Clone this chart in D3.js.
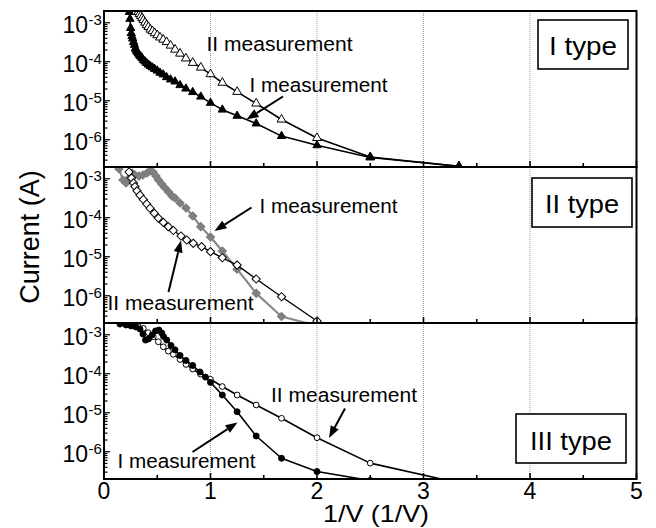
<!DOCTYPE html>
<html>
<head>
<meta charset="utf-8">
<script src="https://cdn.jsdelivr.net/npm/d3@7"></script>
<style>
  body { margin: 0; background: #fff; }
  svg { display: block; }
</style>
</head>
<body>
<svg id="chart" width="656" height="528"></svg>
<script>
// ---- data: inverse voltage (1/V) and current (A) per device type and measurement ----
const xTypeI_I = [0.238,0.244,0.25,0.256,0.263,0.27,0.278,0.286,0.294,0.303,0.313,0.323,0.333,0.345,0.357,0.37,0.385,0.4,0.417,0.435,0.455,0.476,0.5,0.526,0.556,0.588,0.625,0.667,0.714,0.769,0.833,0.909,1,1.111,1.25,1.429,1.667,2,2.5,3.333];
const iTypeI_I = [1.88e-3,1.25e-3,7.3e-4,5.4e-4,4.5e-4,3.9e-4,3.2e-4,2.7e-4,2.17e-4,1.93e-4,1.77e-4,1.62e-4,1.48e-4,1.35e-4,1.24e-4,1.10e-4,1.01e-4,9.2e-5,8.4e-5,7.7e-5,7.1e-5,6.5e-5,5.9e-5,5.2e-5,4.7e-5,4.0e-5,3.5e-5,3.1e-5,2.5e-5,2.04e-5,1.66e-5,1.27e-5,8.8e-6,5.9e-6,4.1e-6,2.6e-6,1.24e-6,7.2e-7,3.5e-7,2.1e-7];

const xTypeI_II = [0.323,0.333,0.345,0.357,0.37,0.385,0.4,0.417,0.435,0.455,0.476,0.5,0.526,0.556,0.588,0.625,0.667,0.714,0.769,0.833,0.909,1,1.111,1.25,1.429,1.667,2,2.5,3.333];
const iTypeI_II = [1.88e-3,1.67e-3,1.49e-3,1.32e-3,1.17e-3,1.01e-3,8.7e-4,7.8e-4,6.7e-4,6.1e-4,5.4e-4,4.8e-4,4.2e-4,3.7e-4,3.2e-4,2.6e-4,2.05e-4,1.62e-4,1.22e-4,9.4e-5,7.1e-5,4.8e-5,2.9e-5,1.69e-5,8.5e-6,3.3e-6,1.11e-6,3.6e-7,2.07e-7];

const xTypeII_I = [0.141,0.178,0.207,0.235,0.263,0.291,0.329,0.366,0.404,0.432,0.46,0.488,0.512,0.542,0.573,0.606,0.638,0.667,0.714,0.77,0.833,0.909,1,1.111,1.25,1.429,1.667,2];
const iTypeII_I = [1.78e-3,9.3e-4,7.8e-4,1.04e-3,1.40e-3,1.25e-3,1.17e-3,1.25e-3,1.40e-3,1.58e-3,1.49e-3,1.17e-3,9.3e-4,7.3e-4,5.8e-4,4.6e-4,3.6e-4,3.2e-4,2.39e-4,1.78e-4,1.11e-4,5.9e-5,3.2e-5,1.40e-5,4.8e-6,1.15e-6,2.94e-7,1.7e-7];

const xTypeII_II = [0.235,0.258,0.277,0.291,0.31,0.338,0.369,0.401,0.432,0.472,0.51,0.557,0.604,0.651,0.723,0.777,0.838,0.917,1,1.111,1.25,1.429,1.667,2];
const iTypeII_II = [1.49e-3,1.04e-3,7.8e-4,6.3e-4,4.9e-4,3.8e-4,2.94e-4,2.25e-4,1.75e-4,1.30e-4,9.8e-5,7.6e-5,5.9e-5,4.7e-5,3.4e-5,2.69e-5,2.21e-5,1.81e-5,1.35e-5,9.4e-6,6.1e-6,2.69e-6,9.4e-7,2.25e-7];

const xTypeIII_I = [0.15,0.207,0.254,0.3,0.338,0.366,0.39,0.418,0.451,0.484,0.516,0.542,0.559,0.589,0.629,0.667,0.714,0.77,0.833,0.901,0.953,1,1.111,1.25,1.429,1.667,2,2.5];
const iTypeIII_I = [1.88e-3,1.78e-3,1.68e-3,1.58e-3,1.40e-3,1.04e-3,7.3e-4,7.8e-4,9.8e-4,1.25e-3,1.32e-3,1.11e-3,9.0e-4,7.3e-4,5.3e-4,4.1e-4,2.94e-4,2.19e-4,1.63e-4,1.11e-4,8.2e-5,6.0e-5,2.85e-5,1.06e-5,2.53e-6,6.8e-7,3.1e-7,1.83e-7];

const xTypeIII_II = [0.207,0.254,0.291,0.322,0.369,0.416,0.463,0.51,0.557,0.604,0.651,0.714,0.77,0.833,0.906,1,1.111,1.25,1.429,1.667,2,2.5,3.333];
const iTypeIII_II = [1.88e-3,1.78e-3,1.68e-3,1.61e-3,1.46e-3,1.13e-3,8.9e-4,6.6e-4,4.9e-4,3.8e-4,3.15e-4,2.32e-4,1.73e-4,1.32e-4,9.8e-5,7.2e-5,4.7e-5,2.85e-5,1.58e-5,7.2e-6,2.29e-6,5.1e-7,1.58e-7];

const xTickLabels = ["0", "1", "2", "3", "4", "5"];
const yDecades = [-3, -4, -5, -6];
const panelNames = ["I type", "II type", "III type"];
const measureNames = ["I measurement", "II measurement"];

// ---- layout ----
const FONT = "'Liberation Sans', Arial, Helvetica, sans-serif";
const svg = d3.select("#chart");
const plotLeft = 104, plotRight = 636.5, panelH = 156;
const panelTops = [11, 167, 323];

const x = d3.scaleLinear().domain([0, 5]).range([plotLeft, plotRight]);
const yScales = panelTops.map(t => d3.scaleLog().domain([2e-7, 2e-3]).range([t + panelH, t]));

const series = [
  { p: 0, xs: xTypeI_II, ys: iTypeI_II, sym: "tri", fill: "#fff", stroke: "#000", line: "#000", lw: 1.6, size: 34 },
  { p: 0, xs: xTypeI_I,  ys: iTypeI_I,  sym: "tri", fill: "#000", stroke: "#000", line: "#000", lw: 1.6, size: 30 },
  { p: 1, xs: xTypeII_I, ys: iTypeII_I, sym: "dia", fill: "#808080", stroke: "#7a7a7a", line: "#8a8a8a", lw: 2.2, size: 34 },
  { p: 1, xs: xTypeII_II, ys: iTypeII_II, sym: "dia", fill: "#fff", stroke: "#000", line: "#000", lw: 1.4, size: 34 },
  { p: 2, xs: xTypeIII_II, ys: iTypeIII_II, sym: "circ", fill: "#fff", stroke: "#000", line: "#000", lw: 1.6, size: 26 },
  { p: 2, xs: xTypeIII_I,  ys: iTypeIII_I,  sym: "circ", fill: "#000", stroke: "#000", line: "#000", lw: 1.6, size: 28 }
];

const defs = svg.append("defs");
panelTops.forEach((t, i) => {
  defs.append("clipPath").attr("id", "clip" + i)
    .append("rect").attr("x", plotLeft).attr("y", t)
    .attr("width", plotRight - plotLeft).attr("height", panelH);
});

// grid lines
panelTops.forEach((t, i) => {
  svg.append("g").selectAll("line").data([1, 2, 3, 4]).join("line")
    .attr("x1", d => x(d)).attr("x2", d => x(d))
    .attr("y1", t).attr("y2", t + panelH)
    .attr("stroke", "#9a9a9a").attr("stroke-width", 1)
    .attr("stroke-dasharray", "1,1");
});

// series
const symType = { tri: d3.symbolTriangle, dia: d3.symbolSquare, circ: d3.symbolCircle };
series.forEach(s => {
  const y = yScales[s.p];
  const pts = d3.zip(s.xs, s.ys);
  const g = svg.append("g").attr("clip-path", `url(#clip${s.p})`);
  g.append("path").datum(pts)
    .attr("d", d3.line().x(d => x(d[0])).y(d => y(d[1])))
    .attr("fill", "none").attr("stroke", s.line).attr("stroke-width", s.lw)
    .attr("stroke-linejoin", "round");
  g.selectAll("path.m").data(pts).join("path").attr("class", "m")
    .attr("d", d3.symbol(symType[s.sym], s.size))
    .attr("transform", d => `translate(${x(d[0])},${y(d[1])})` + (s.sym === "dia" ? " rotate(45)" : ""))
    .attr("fill", s.fill).attr("stroke", s.stroke).attr("stroke-width", 1);
});

// axes ticks and frames
panelTops.forEach((t, i) => {
  const y = yScales[i];
  const bottom = t + panelH;
  // inward x ticks on each panel's bottom edge
  svg.append("g").selectAll("line").data(d3.range(0, 5.01, 0.5)).join("line")
    .attr("x1", d => x(d)).attr("x2", d => x(d))
    .attr("y1", bottom).attr("y2", d => bottom - (Number.isInteger(d) ? 6 : 4))
    .attr("stroke", "#000").attr("stroke-width", 1.6);
  // log ticks on left edge
  const lt = y.ticks();
  svg.append("g").selectAll("line").data(lt).join("line")
    .attr("x1", plotLeft).attr("x2", d => {
      const m = Math.round(d / Math.pow(10, Math.floor(Math.log10(d) + 1e-9)));
      return plotLeft + (m === 1 ? 6 : 3.5);
    })
    .attr("y1", d => y(d)).attr("y2", d => y(d))
    .attr("stroke", "#000").attr("stroke-width", 1.2);
  // y tick labels 10^n
  const lab = svg.append("g").attr("font-family", FONT).attr("fill", "#000");
  yDecades.forEach(n => {
    const ty = y(Math.pow(10, n));
    lab.append("text").attr("x", 88).attr("y", ty + 10.5)
      .attr("text-anchor", "end").attr("font-size", 23).text("10");
    lab.append("text").attr("x", 88.5).attr("y", ty + 2.5)
      .attr("font-size", 15).text("-" + Math.abs(n));
  });
  // frame
  svg.append("rect").attr("x", plotLeft).attr("y", t)
    .attr("width", plotRight - plotLeft).attr("height", panelH)
    .attr("fill", "none").attr("stroke", "#000").attr("stroke-width", 2);
});

// x tick labels
svg.append("g").attr("font-family", FONT).selectAll("text").data(xTickLabels).join("text")
  .attr("x", (d, i) => x(i)).attr("y", 498.5)
  .attr("text-anchor", "middle").attr("font-size", 23).text(d => d);

// axis titles
svg.append("text").attr("font-family", FONT).attr("font-size", 24)
  .attr("text-anchor", "middle").attr("x", 376).attr("y", 521.5)
  .attr("textLength", 106).attr("lengthAdjust", "spacingAndGlyphs").text("1/V (1/V)");
svg.append("text").attr("font-family", FONT).attr("font-size", 27)
  .attr("text-anchor", "middle")
  .attr("transform", "translate(38.5,237) rotate(-90)").text("Current (A)");

// type boxes
const boxes = [
  { x: 538, y: 20, w: 90, h: 49, tl: 68, base: 55 },
  { x: 532, y: 178, w: 100, h: 49, tl: 74, base: 213 },
  { x: 516, y: 414, w: 110, h: 49, tl: 82, base: 449.5 }
];
boxes.forEach((b, i) => {
  svg.append("rect").attr("x", b.x).attr("y", b.y).attr("width", b.w).attr("height", b.h)
    .attr("fill", "#fff").attr("stroke", "#000").attr("stroke-width", 1.6);
  svg.append("text").attr("font-family", FONT).attr("font-size", 25)
    .attr("x", b.x + b.w / 2).attr("y", b.base).attr("text-anchor", "middle")
    .attr("textLength", b.tl).attr("lengthAdjust", "spacingAndGlyphs")
    .text(panelNames[i]);
});

// annotations: measurement labels with arrows
function arrow(x1, y1, x2, y2) {
  const ang = Math.atan2(y2 - y1, x2 - x1);
  const L = 12, hw = 4.5;
  const bx = x2 - L * Math.cos(ang), by = y2 - L * Math.sin(ang);
  svg.append("line").attr("x1", x1).attr("y1", y1).attr("x2", bx).attr("y2", by)
    .attr("stroke", "#000").attr("stroke-width", 2);
  const px = -Math.sin(ang) * hw, py = Math.cos(ang) * hw;
  svg.append("polygon")
    .attr("points", `${x2},${y2} ${bx + px},${by + py} ${bx - px},${by - py}`)
    .attr("fill", "#000");
}
const notes = [
  { m: 1, x: 206.5, y: 51, tl: 146 },
  { m: 0, x: 249.5, y: 91.5, tl: 138 },
  { m: 0, x: 259.5, y: 213, tl: 138 },
  { m: 1, x: 107.5, y: 310, tl: 146 },
  { m: 1, x: 271, y: 401.5, tl: 146 },
  { m: 0, x: 117.5, y: 468, tl: 138 }
];
notes.forEach(n => {
  svg.append("text").attr("font-family", FONT).attr("font-size", 20.5)
    .attr("x", n.x).attr("y", n.y)
    .attr("textLength", n.tl).attr("lengthAdjust", "spacingAndGlyphs")
    .text(measureNames[n.m]);
});
arrow(283, 96.5, 246.5, 119.5);
arrow(251.5, 207.5, 214.5, 231);
arrow(168.5, 292, 181, 240.5);
arrow(345, 408.5, 329, 438);
arrow(192.5, 452, 237.5, 422.5);
</script>
</body>
</html>
